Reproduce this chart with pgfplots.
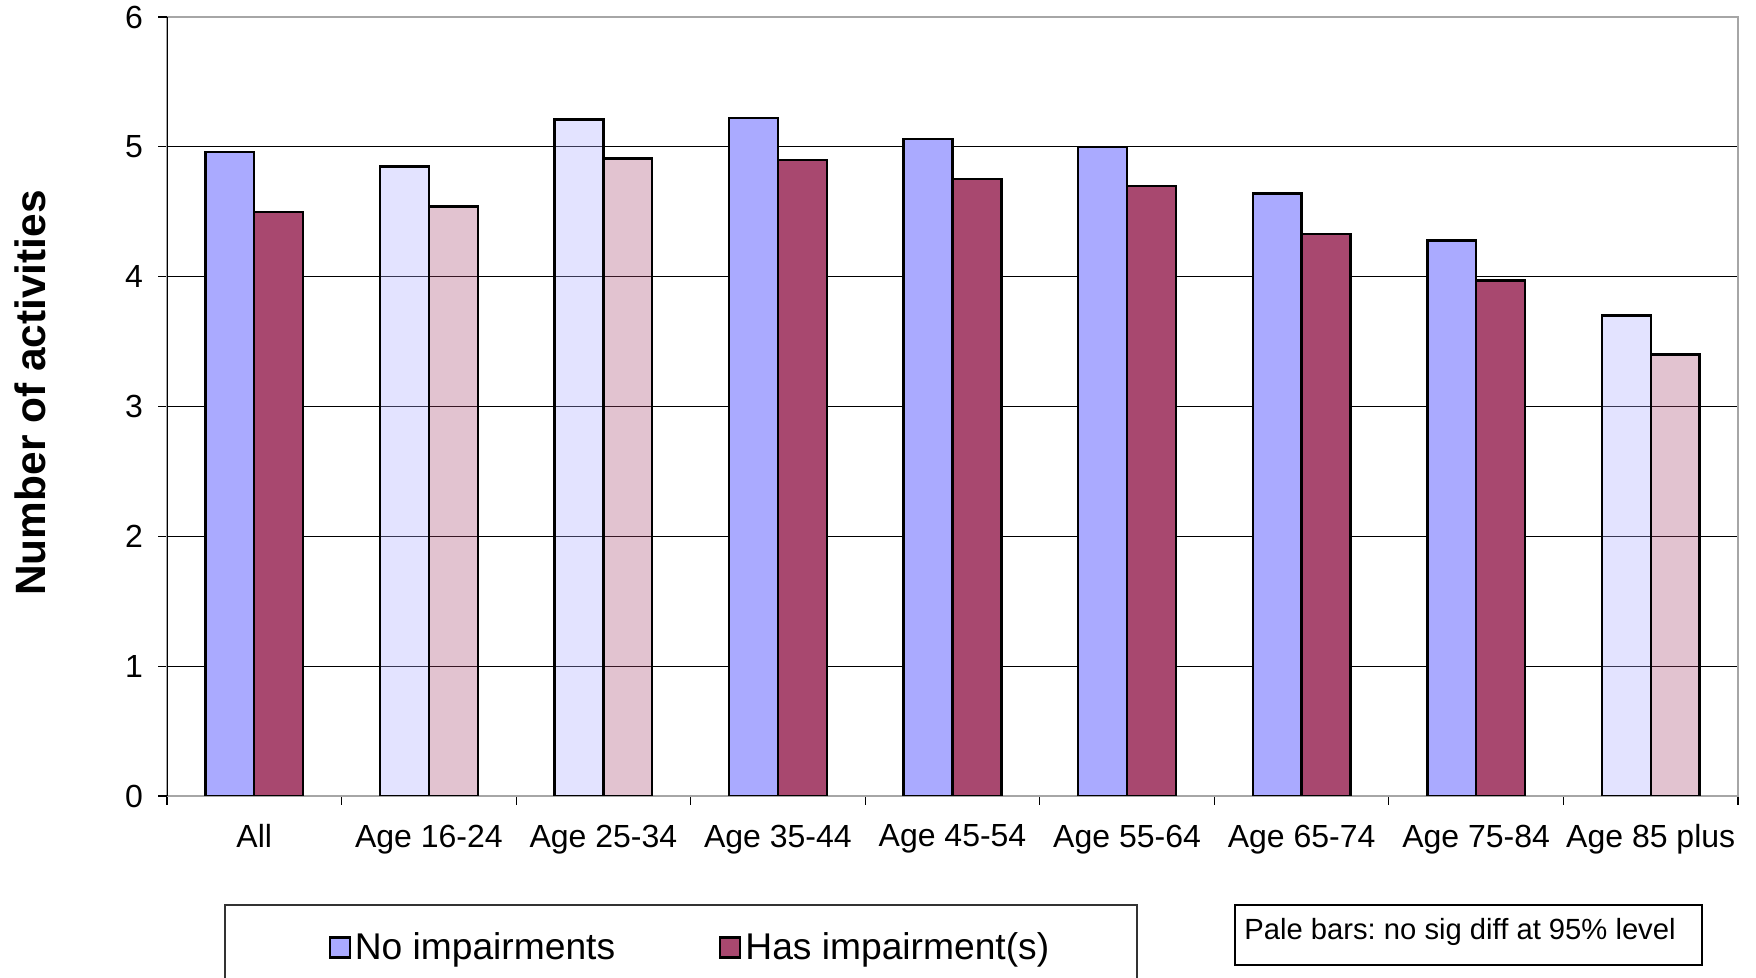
\documentclass[border=0pt]{standalone}
\usepackage{pgfplots}
\pgfplotsset{compat=1.18}
\usepackage{fontspec}
\setmainfont{Liberation Sans}
\frenchspacing

\definecolor{noimp}{HTML}{AAAAFF}
\definecolor{hasimp}{HTML}{A8486F}

\begin{document}
\begin{tikzpicture}
\useasboundingbox (0pt,0pt) rectangle (878pt,-489pt);
\begin{axis}[
  at={(83.5pt,-8.5pt)}, anchor=north west,
  scale only axis, width=785.5pt, height=389.5pt,
  xmin=-0.5, xmax=8.5, ymin=0, ymax=6,
  ybar, bar width=0.28,
  xtick={0,...,8},
  xticklabels={All, Age 16-24, Age 25-34, Age 35-44, Age 45-54, Age 55-64, Age 65-74, Age 75-84, Age 85 plus},
  major x tick style={draw=none},
  minor xtick={-0.5,0.5,...,8.5},
  ytick={1,...,5},
  extra y ticks={0,6},
  extra y tick style={ymajorgrids=false},
  ymajorgrids,
  grid style={black, line width=0.5pt},
  tick align=outside, tick pos=left,
  major tick length=4.5pt, minor tick length=4.5pt,
  tick style={black, line width=0.6pt},
  axis line style={draw=gray!70, line width=0.8pt},
  /pgf/number format/assume math mode=true,
  tick label style={font=\fontsize{16}{19}\selectfont},
  xticklabel style={yshift=-6.3pt},
  yticklabel style={xshift=-4pt},
  legend columns=2,
  legend style={at={(axis description cs:0.3335,-0.1945)}, anchor=center,
    draw=none, fill=none, font=\fontsize{18.6}{22}\selectfont,
    /tikz/every even column/.append style={column sep=50pt}},
  legend image code/.code={\draw[#1,line width=1.1pt] (-1.2pt,-5pt) rectangle (8.8pt,5pt);},
]
% significant differences
\addplot[draw=black, line width=1.2pt, fill=noimp, bar shift=-0.14]
  coordinates {(0,4.96) (3,5.22) (4,5.06) (5,5.00) (6,4.64) (7,4.28)};
\addlegendentry{No impairments}
\addplot[draw=black, line width=1.2pt, fill=hasimp, bar shift=0.14]
  coordinates {(0,4.50) (3,4.90) (4,4.75) (5,4.70) (6,4.33) (7,3.97)};
\addlegendentry{Has impairment(s)}
% pale bars: no significant difference
\addplot[draw=black, line width=1.2pt, fill=noimp, fill opacity=0.33, bar shift=-0.14, forget plot]
  coordinates {(1,4.85) (2,5.21) (8,3.70)};
\addplot[draw=black, line width=1.2pt, fill=hasimp, fill opacity=0.33, bar shift=0.14, forget plot]
  coordinates {(1,4.54) (2,4.91) (8,3.40)};
\draw[black, line width=0.8pt] (axis description cs:0,0) -- (axis description cs:0,1);
\end{axis}
\node[rotate=90, font=\bfseries\fontsize{21.2}{25}\selectfont] at (15pt,-196.5pt) {Number of activities};
\draw[black!80, line width=0.8pt] (112.5pt,-452.5pt) rectangle (568.5pt,-500pt);
\draw[black, line width=1pt] (617.5pt,-452.5pt) rectangle (851pt,-482.5pt);
\node[anchor=west, inner sep=0pt, font=\fontsize{14.6}{17}\selectfont] at (622pt,-466pt) {Pale bars: no sig diff at 95\% level};
\end{tikzpicture}
\end{document}
